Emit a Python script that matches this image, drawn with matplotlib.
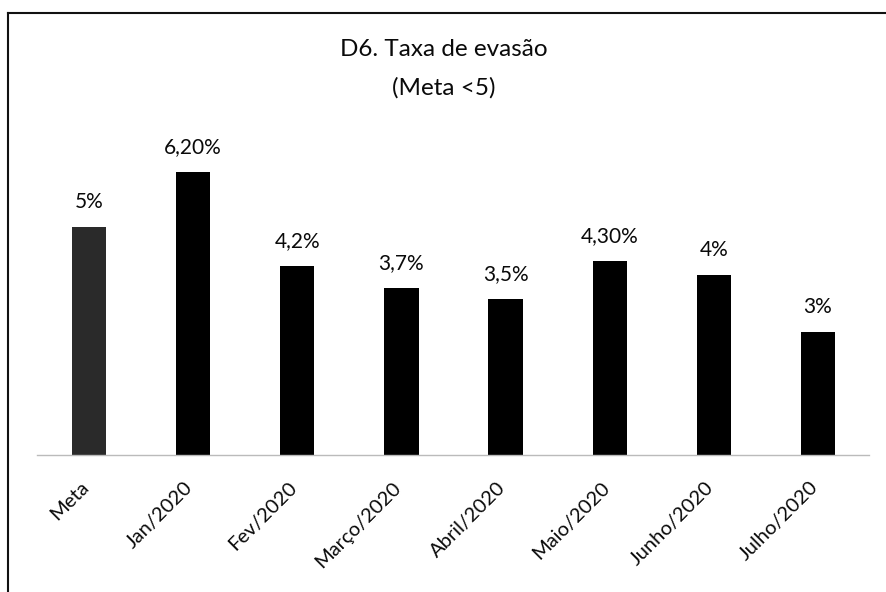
import matplotlib
matplotlib.use("Agg")
import matplotlib.pyplot as plt
import matplotlib.transforms as mtransforms
from matplotlib.lines import Line2D

categories = ["Meta", "Jan/2020", "Fev/2020", "Março/2020", "Abril/2020",
              "Maio/2020", "Junho/2020", "Julho/2020"]
values = [5.0, 6.2, 4.15, 3.66, 3.42, 4.25, 3.95, 2.7]
labels = ["5%", "6,20%", "4,2%", "3,7%", "3,5%", "4,30%", "4%", "3%"]
colors = ["#2a2a2a"] + ["#000000"] * 7

plt.rcParams['font.family'] = ['Lato', 'DejaVu Sans']

fig = plt.figure(figsize=(8.87, 5.92), dpi=100)
W, H = 887, 592
ax = fig.add_axes([37 / W, 1 - 455 / H, (870 - 37) / W, (455 - 136) / H])

x = list(range(len(categories)))
ax.bar(x, values, width=0.33, color=colors, zorder=2)
for xi, v, lab in zip(x, values, labels):
    ax.annotate(lab, (xi, v), xytext=(0, 11), textcoords="offset points",
                ha="center", va="bottom", fontsize=15, color="#0a0a0a")

ax.set_xlim(-0.5, len(categories) - 0.5)
ax.set_ylim(0, 7)
ax.set_yticks([])
ax.set_xticks(x)
ax.set_xticklabels(categories, rotation=45, ha="right", rotation_mode="anchor",
                   fontsize=14.5, color="#0a0a0a")
ax.tick_params(axis="x", length=0, pad=17)
offset = mtransforms.ScaledTranslation(-9 / 100, 0, fig.dpi_scale_trans)
for t in ax.get_xticklabels():
    t.set_transform(t.get_transform() + offset)
for s in ["top", "right", "left"]:
    ax.spines[s].set_visible(False)
ax.spines["bottom"].set_color("#bbbbbb")
ax.spines["bottom"].set_linestyle((0, (2, 1)))
ax.spines["bottom"].set_linewidth(1.0)

fig.text(0.5, 1 - 50 / H, "D6. Taxa de evasão", ha="center", va="center",
         fontsize=17.5, color="#0a0a0a")
fig.text(0.5, 1 - 88 / H, "(Meta <5)", ha="center", va="center",
         fontsize=17.5, color="#0a0a0a")

# outer border (left and top visible in the scan)
fig.add_artist(Line2D([8 / W, 8 / W], [0, 1 - 13 / H], transform=fig.transFigure,
                      color="#111111", lw=1.5))
fig.add_artist(Line2D([8 / W, 1], [1 - 13 / H, 1 - 13 / H], transform=fig.transFigure,
                      color="#111111", lw=1.5))

fig.savefig("out.png", dpi=100)
